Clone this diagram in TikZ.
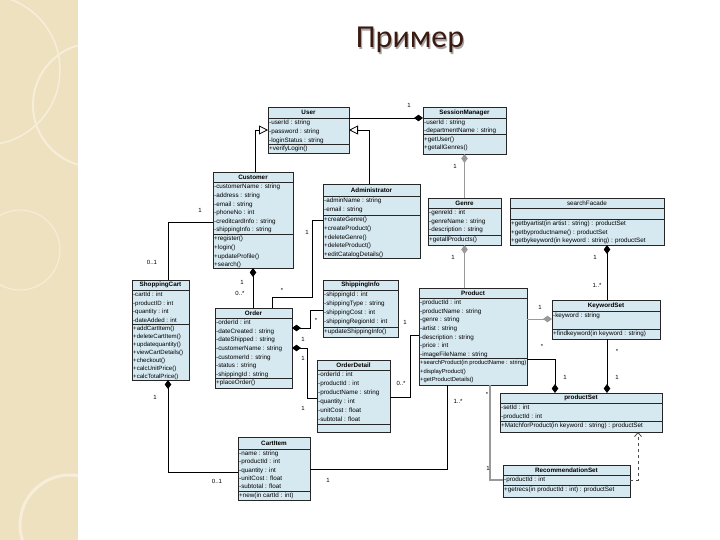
\documentclass[tikz,border=0pt]{standalone}
\usepackage{fontspec}
\setmainfont{Liberation Sans}
\newfontfamily\titlefont{Carlito}
\usetikzlibrary{arrows.meta,calc}

\definecolor{clsfill}{HTML}{D6E9F1}
\definecolor{beige}{HTML}{EEE1C0}
\definecolor{beigelight}{HTML}{F7EEDA}
\definecolor{titlecol}{HTML}{3B1A12}

\tikzset{
 clsbox/.style={draw=black!85, fill=clsfill, line width=0.7pt, inner sep=0pt, outer sep=0pt},
 clsline/.style={draw=black!85, line width=0.7pt},
 clstitle/.style={font=\fontsize{6.3}{7}\selectfont\bfseries, inner sep=0pt},
 clstext/.style={font=\fontsize{6.3}{8.6}\selectfont, align=left, inner sep=0pt, anchor=north west, yshift=-0.8pt},
 conn/.style={line width=0.8pt, draw=black},
 gconn/.style={line width=0.8pt, draw=black!40},
 dia/.style={-{Diamond[length=9pt,width=6.5pt]}},
 gen/.style={-{Triangle[open,length=9pt,width=9pt,fill=white]}},
 mult/.style={font=\fontsize{6}{7}\selectfont, inner sep=0pt},
}

\newcommand\umlclass[8]{%
 \node[clsbox, anchor=north west, minimum width={(#4-#2)*1pt}, minimum height={(#5-#3)*1pt}] (#1) at (#2,#3) {};
 \draw[clsline] (#2,#6) -- (#4,#6);
 \draw[clsline] (#2,#7) -- (#4,#7);
 \node[clstitle] (#1-t) at ({(#2+#4)/2},{(#3+#6)/2}) {#8};
}

\begin{document}
\begin{tikzpicture}[x=1pt,y=-1pt]
\useasboundingbox (0,0) rectangle (720,540);
\fill[white] (0,0) rectangle (720,540);
% left decorative strip
\fill[beige] (0,0) rectangle (78,540);
\begin{scope}
 \clip (0,0) rectangle (78,540);
 \draw[beigelight, line width=2pt] (95,105) circle [radius=62pt];
 \draw[beigelight, line width=1.5pt] (-15,70) circle [radius=75pt];
 \draw[beigelight, line width=3pt] (70,525) circle [radius=50pt];
 \draw[beigelight, line width=1pt] (20,250) circle [radius=40pt];
\end{scope}

% title
\node[font=\titlefont\fontsize{32}{36}\selectfont, text=black!35, anchor=base] (titleshadow) at (411.2,49.2) {Пример};
\node[font=\titlefont\fontsize{32}{36}\selectfont, text=titlecol, anchor=base] (title) at (410,48) {Пример};

% ---------- classes ----------
\umlclass{user}{268}{107}{349}{153}{118}{144}{User}
\node[clstext] (user-a) at (269,119.3) {-userId : string\\-password : string\\-loginStatus : string};
\node[clstext] (user-m) at (269,145.1) {+verifyLogin()};

\umlclass{sess}{423}{107}{506}{154}{118}{134}{SessionManager}
\node[clstext, font=\fontsize{6.3}{7.6}\selectfont] (sess-a) at (424,119.3) {-userId : string\\-departmentName : string};
\node[clstext, font=\fontsize{6.3}{8.4}\selectfont] (sess-m) at (424,135.6) {+getUser()\\+getallGenres()};

\umlclass{cust}{213}{172}{293}{268}{182}{234}{Customer}
\node[clstext] (cust-a) at (214,183.3) {-customerName : string\\-address : string\\-email : string\\-phoneNo : int\\-creditcardInfo : string\\-shippingInfo : string};
\node[clstext] (cust-m) at (214,235.3) {+register()\\+login()\\+updateProfile()\\+search()};

\umlclass{admin}{323}{184}{420}{258}{196}{215}{Administrator}
\node[clstext] (admin-a) at (324,197.1) {-adminName : string\\-email : string};
\node[clstext] (admin-m) at (324,216.3) {+createGenre()\\+createProduct()\\+deleteGenre()\\+deleteProduct()\\+editCatalogDetails()};

\umlclass{genre}{428}{198}{501}{245}{208}{235}{Genre}
\node[clstext] (genre-a) at (429,209.1) {-genreId : int\\-genreName : string\\-description : string};
\node[clstext] (genre-m) at (429,236.1) {+getallProducts()};

\umlclass{search}{510}{198}{664}{245}{208}{219}{}
\node[clstitle, font=\fontsize{6.3}{7}\selectfont] (search-tt) at (587,203) {searchFacade};
\node[clstext] (search-m) at (511,219.9) {+getbyartist(in artist : string) : productSet\\+getbyproductname() : productSet\\+getbykeyword(in keyword : string) : productSet};

\umlclass{cart}{132}{280}{189}{380}{290}{324}{ShoppingCart}
\node[clstext, font=\fontsize{6.1}{8.6}\selectfont] (cart-a) at (133,291.2) {-cartId : int\\-productID : int\\-quantity : int\\-dateAdded : int};
\node[clstext, font=\fontsize{6.1}{8.0}\selectfont] (cart-m) at (133,325.2) {+addCartItem()\\+deleteCartItem()\\+updatequantity()\\+viewCartDetails()\\+checkout()\\+calcUnitPrice()\\+calcTotalPrice()};

\umlclass{order}{215}{308}{292}{388}{318}{378}{Order}
\node[clstext] (order-a) at (216,319.1) {-orderId : int\\-dateCreated : string\\-dateShipped : string\\-customerName : string\\-customerId : string\\-status : string\\-shippingId : string};
\node[clstext] (order-m) at (216,379.1) {+placeOrder()};

\umlclass{ship}{323}{280}{398}{337}{290}{327}{ShippingInfo}
\node[clstext, font=\fontsize{6.3}{9}\selectfont] (ship-a) at (324,291.3) {-shippingId : int\\-shippingType : string\\-shippingCost : int\\-shippingRegionId : int};
\node[clstext] (ship-m) at (324,328.1) {+updateShippingInfo()};

\umlclass{product}{419}{288}{527}{385}{298}{358}{Product}
\node[clstext] (product-a) at (420,299.1) {-productId : int\\-productName : string\\-genre : string\\-artist : string\\-description : string\\-price : int\\-imageFileName : string};
\node[clstext, font=\fontsize{5.85}{8.6}\selectfont] (product-m) at (420,359.5) {+searchProduct(in productName : string)\\+displayProduct()\\+getProductDetails()};

\umlclass{kw}{552}{300}{660}{339}{311}{329}{KeywordSet}
\node[clstext] (kw-a) at (553,312.3) {-keyword : string};
\node[clstext] (kw-m) at (553,330.1) {+findkeyword(in keyword : string)};

\umlclass{detail}{317}{360}{390}{432}{370}{424}{OrderDetail}
\node[clstext, font=\fontsize{6.3}{8.9}\selectfont] (detail-a) at (318,371.1) {-orderId : int\\-productId : int\\-productName : string\\-quantity : int\\-unitCost : float\\-subtotal : float};

\umlclass{item}{238}{437}{310}{500}{449}{491}{CartItem}
\node[clstext, font=\fontsize{6.3}{8.3}\selectfont] (item-a) at (239,450.1) {-name : string\\-productId : int\\-quantity : int\\-unitCost : float\\-subtotal : float};
\node[clstext] (item-m) at (239,491.9) {+new(in cartId : int)};

\umlclass{pset}{500}{393}{662}{432}{403}{421}{productSet}
\node[clstext] (pset-a) at (501,404.1) {-setId : int\\-productId : int};
\node[clstext] (pset-m) at (501,422.3) {+MatchforProduct(in keyword : string) : productSet};

\umlclass{rec}{503}{465}{630}{497}{475}{485}{RecommendationSet}
\node[clstext] (rec-a) at (504,476.1) {-productId : int};
\node[clstext] (rec-m) at (504,486.3) {+getrecs(in productId : int) : productSet};

% ---------- connectors ----------
% User -- SessionManager
\draw[conn, dia] (user.east |- 0,118) -- (sess.west |- 0,118);
\node[mult] (m1) at (409,105) {1};
% SessionManager -- Genre
\draw[gconn, dia] (genre.north) -- (sess.south);
\node[mult] (m2) at (455,166) {1};
% Genre -- Product
\draw[gconn, dia] (product.north -| genre.south) -- (genre.south);
\node[mult] (m3) at (453,257) {1};
% searchFacade -- KeywordSet
\draw[conn, dia] (607,0 |- kw.north) -- (607,0 |- search.south);
\node[mult] (m4) at (595,257) {1};
\node[mult] (m5) at (597,285) {1..*};
% Product -- KeywordSet
\draw[gconn, dia] (product.east |- 0,319) -- (kw.west |- 0,319);
\node[mult] (m6) at (540,307) {1};
% Product -- productSet
\draw[conn, dia] (product.east |- 0,359) -| (555,0 |- pset.north);
\node[mult] (m7) at (542,346) {*};
\node[mult] (m8) at (565,377) {1};
% KeywordSet -- productSet
\draw[conn, dia] (607,0 |- kw.south) -- (607,0 |- pset.north);
\node[mult] (m9) at (617,351) {*};
\node[mult] (m10) at (617,377) {1};
% Product -- RecommendationSet
\draw[gconn, line width=1.2pt] (490,0 |- product.south) |- (rec.west |- 0,480);
\node[mult] (m11) at (487,394) {*};
\node[mult] (m12) at (488,468) {1};
% RecommendationSet ..> productSet
\draw[line width=0.8pt, black!70, dashed, -{Straight Barb[length=4pt,width=7pt]}] (rec.east |- 0,480) -| (638,0 |- pset.south);
% Product -- CartItem
\draw[conn] (447,0 |- product.south) |- (item.east |- 0,469);
\node[mult] (m13) at (458,401) {1..*};
\node[mult] (m14) at (328,480) {1};
% Product -- OrderDetail
\draw[conn] (product.west |- 0,335) -- (410,335) |- (detail.east |- 0,397);
\node[mult] (m15) at (405,322) {1};
\node[mult] (m16) at (401,383) {0..*};
% Customer --|> User
\draw[conn, gen] (255,0 |- cust.north) |- (user.west |- 0,130);
% Administrator --|> User
\draw[conn, gen] (369,0 |- admin.north) |- (user.east |- 0,130);
% Customer -- ShoppingCart
\draw[conn] (cust.west |- 0,222) -| (168,0 |- cart.north);
\node[mult] (m17) at (200,210) {1};
\node[mult] (m18) at (152,262) {0..1};
% Customer -- Order
\draw[conn, dia] (253,0 |- order.north) -- (253,0 |- cust.south);
\node[mult] (m19) at (242,282) {1};
\node[mult] (m20) at (240,293) {0..*};
% Administrator -- Order
\draw[conn] (admin.west |- 0,220) -- (312,220) -- (312,297) -| (272,0 |- order.north);
\node[mult] (m21) at (307,232) {1};
\node[mult] (m22) at (282,290) {*};
% Order -- ShippingInfo
\draw[conn, dia] (ship.west |- 0,310) -- (310,310) |- (order.east |- 0,328);
\node[mult] (m23) at (316,320) {*};
% Order -- OrderDetail
\draw[conn, dia] (detail.west |- 0,398) -- (307,398) |- (order.east |- 0,348);
\node[mult] (m24) at (303,339) {1};
\node[mult] (m25) at (303,358) {1};
\node[mult] (m26) at (303,408) {1};
% ShoppingCart -- CartItem
\draw[conn, dia] (item.west |- 0,472) -| (168,0 |- cart.south);
\node[mult] (m27) at (155,397) {1};
\node[mult] (m28) at (217,481) {0..1};
\end{tikzpicture}
\end{document}
